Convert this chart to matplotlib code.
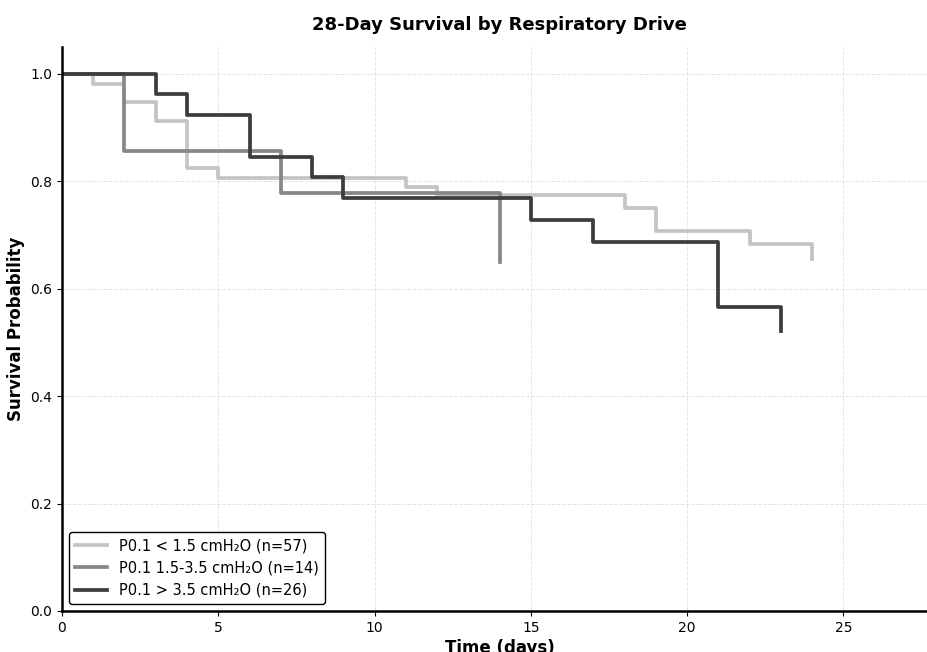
import numpy as np
import matplotlib.pyplot as plt

# Kaplan-Meier step estimates per P0.1 group
t_low = [0, 1, 2, 3, 4, 5, 11, 12, 18, 19, 22, 24]
s_low = [1.0, 0.982, 0.947, 0.912, 0.825, 0.807, 0.789, 0.774, 0.750, 0.708, 0.684, 0.656]

t_mid = [0, 2, 7, 14]
s_mid = [1.0, 0.857, 0.779, 0.649]

t_high = [0, 3, 4, 6, 8, 9, 15, 17, 21, 23]
s_high = [1.0, 0.962, 0.923, 0.846, 0.808, 0.769, 0.728, 0.687, 0.566, 0.522]

labels = ['P0.1 < 1.5 cmH\u2082O (n=57)',
          'P0.1 1.5-3.5 cmH\u2082O (n=14)',
          'P0.1 > 3.5 cmH\u2082O (n=26)']
colors = ['#c4c4c4', '#888888', '#3d3d3d']

fig = plt.figure(figsize=(9.28, 6.52), dpi=100)
ax = fig.add_axes([0.0668, 0.0629, 0.943, 0.865])

for t, s, lab, c in zip([t_low, t_mid, t_high], [s_low, s_mid, s_high], labels, colors):
    ax.step(t, s, where='post', color=c, linewidth=2.7, label=lab)

ax.set_xlim(0, 28)
ax.set_ylim(0, 1.05)
ax.set_xticks(np.arange(0, 26, 5))
ax.set_yticks(np.arange(0, 1.01, 0.2))
ax.grid(color='#dddddd', linestyle='--', linewidth=0.7, alpha=0.8)
ax.set_axisbelow(True)

for side in ['top', 'right']:
    ax.spines[side].set_visible(False)
for side in ['left', 'bottom']:
    ax.spines[side].set_linewidth(1.8)

ax.tick_params(labelsize=10)
ax.set_title('28-Day Survival by Respiratory Drive', fontsize=13, fontweight='bold', pad=12)
ax.set_xlabel('Time (days)', fontsize=12, fontweight='bold', labelpad=3)
ax.set_ylabel('Survival Probability', fontsize=12, fontweight='bold')

leg = ax.legend(loc='lower left', fontsize=10.5, frameon=True, fancybox=True,
                edgecolor='black', framealpha=1, handlelength=2.2)
leg.get_frame().set_linewidth(1.0)

fig.savefig('out.png', dpi=100)
